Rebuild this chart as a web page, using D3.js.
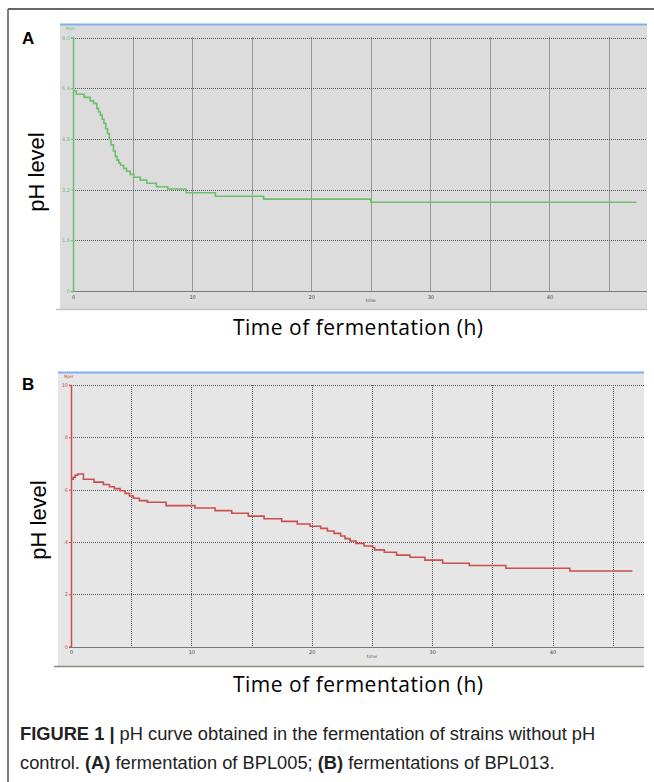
<!DOCTYPE html>
<html>
<head>
<meta charset="utf-8">
<script src="https://cdn.jsdelivr.net/npm/d3@7"></script>
<style>
  body { margin: 0; background: #fff; }
  svg { display: block; }
</style>
</head>
<body>
<svg id="fig" width="654" height="782"></svg>
<script>
// pH readings (hours, pH)
const hoursA = [0, 0.28, 0.95, 1.45, 1.73, 2.0, 2.15, 2.3, 2.45, 2.6, 2.75, 2.9, 3.05, 3.2, 3.4, 3.55,
                3.7, 3.85, 4.0, 4.25, 4.5, 4.8, 5.1, 5.65, 6.2, 7.0, 7.95, 9.5, 11.95, 16.0, 25.0, 47.3];
const phA = [6.31, 6.21, 6.11, 6.00, 5.92, 5.76, 5.65, 5.55, 5.42, 5.29, 5.12, 4.97, 4.78, 4.61, 4.42, 4.25,
             4.13, 4.04, 3.97, 3.87, 3.78, 3.68, 3.59, 3.50, 3.40, 3.29, 3.22, 3.10, 2.99, 2.90, 2.80, 2.80];

const hoursB = [0, 0.19, 0.35, 0.55, 1.03, 1.91, 2.69, 3.19, 3.60, 4.07, 4.49, 4.85, 5.18, 5.68, 6.35, 7.9,
                10.3, 11.97, 13.35, 14.73, 16.04, 17.5, 18.8, 19.86, 20.74, 21.3, 21.85, 22.4, 22.76, 23.18,
                23.68, 24.34, 25.06, 25.23, 26.03, 27.05, 28.16, 29.4, 30.87, 33.08, 36.13, 41.44, 46.64];
const phB = [6.40, 6.47, 6.55, 6.60, 6.40, 6.29, 6.20, 6.11, 6.04, 5.96, 5.86, 5.76, 5.67, 5.58, 5.52, 5.39,
             5.30, 5.20, 5.10, 4.99, 4.89, 4.79, 4.69, 4.60, 4.52, 4.42, 4.33, 4.23, 4.13, 4.04,
             3.95, 3.85, 3.78, 3.70, 3.61, 3.50, 3.42, 3.31, 3.19, 3.10, 3.00, 2.89, 2.89];

const yTicksA = [0, 1.6, 3.2, 4.8, 6.4, 8.0];
const yTicksB = [0, 2, 4, 6, 8, 10];
const xTickLabels = [0, 10, 20, 30, 40];
const gridHours = [5, 10, 15, 20, 25, 30, 35, 40, 45];

const svg = d3.select("#fig");
const snap = v => Math.round(v) + 0.5; // keep the dotted grid crisp

function drawPanel(p) {
    const g = svg.append("g");
    const x = d3.scaleLinear().domain([0, 45]).range([p.x0, p.x45]);
    const y = d3.scaleLinear().domain([0, p.yMax]).range([p.yBase, p.yTop]);

    // logger window background
    g.append("rect")
        .attr("x", p.left).attr("y", p.top)
        .attr("width", p.right - p.left).attr("height", p.bottom - p.top)
        .attr("fill", p.bg);
    g.append("line")
        .attr("x1", p.left).attr("x2", p.right)
        .attr("y1", p.top + 0.5).attr("y2", p.top + 0.5)
        .attr("stroke", "#7fb0ee").attr("stroke-width", 2);
    g.append("line")
        .attr("x1", p.left - 4).attr("x2", p.right)
        .attr("y1", p.bottom + 0.5).attr("y2", p.bottom + 0.5)
        .attr("stroke", p.bottomColor).attr("stroke-width", 1.5);

    // horizontal dotted grid
    g.selectAll(".hgrid").data(p.yTicks.slice(1)).join("line")
        .attr("class", "hgrid")
        .attr("x1", p.x0).attr("x2", p.right)
        .attr("y1", d => snap(y(d))).attr("y2", d => snap(y(d)))
        .attr("stroke", "#555").attr("stroke-dasharray", "1,1");

    // vertical dotted grid
    g.selectAll(".vgrid").data(gridHours).join("line")
        .attr("class", "vgrid")
        .attr("x1", d => snap(x(d))).attr("x2", d => snap(x(d)))
        .attr("y1", y(p.yMax)).attr("y2", y(0))
        .attr("stroke", "#555").attr("stroke-dasharray", "1,1");

    // x axis
    const xa = g.append("g")
        .attr("transform", `translate(0,${y(0)})`)
        .call(d3.axisBottom(x).tickValues(xTickLabels).tickSize(0).tickPadding(4));
    xa.select(".domain").remove();
    xa.selectAll("text").attr("font-size", 5).attr("font-family", "DejaVu Sans").attr("fill", "#444");
    g.append("line")
        .attr("x1", p.x0).attr("x2", p.right)
        .attr("y1", snap(y(0))).attr("y2", snap(y(0)))
        .attr("stroke", "#7a7a7a").attr("stroke-width", 1);
    g.append("text")
        .attr("x", x(25)).attr("y", y(0) + 11)
        .attr("text-anchor", "middle")
        .attr("font-size", 4.5).attr("font-family", "DejaVu Sans").attr("fill", "#555")
        .text("time");

    // y axis in the series colour
    const ya = g.append("g")
        .attr("transform", `translate(${p.x0},0)`)
        .call(d3.axisLeft(y).tickValues(p.yTicks).tickFormat(p.yFmt).tickSize(2).tickPadding(1));
    ya.select(".domain").attr("stroke", p.color).attr("stroke-width", 1.5);
    ya.selectAll("line").attr("stroke", p.color);
    ya.selectAll("text").attr("font-size", 5).attr("font-family", "DejaVu Sans").attr("fill", p.color);
    g.append("text")
        .attr("x", p.left + 6).attr("y", p.top + 6)
        .attr("font-size", 4).attr("font-family", "DejaVu Sans").attr("fill", p.color)
        .text("MpH");

    // pH trace
    const pts = p.hours.map((h, i) => [h, p.ph[i]]);
    const line = d3.line()
        .x(d => x(d[0]))
        .y(d => y(d[1]))
        .curve(d3.curveStepAfter);
    g.append("path")
        .datum(pts)
        .attr("d", line)
        .attr("fill", "none")
        .attr("stroke", p.color)
        .attr("stroke-width", 1.6);

    // panel letter and axis titles
    svg.append("text")
        .attr("x", 22).attr("y", p.letterY)
        .attr("font-family", "Liberation Sans, Arial, sans-serif")
        .attr("font-weight", "bold").attr("font-size", 17)
        .text(p.letter);
    svg.append("text")
        .attr("transform", `translate(${p.yLabelX},${p.yLabelY}) rotate(-90)`)
        .attr("text-anchor", "middle")
        .attr("font-family", "Liberation Sans, Arial, sans-serif")
        .attr("font-size", 22)
        .text("pH level");
    svg.append("text")
        .attr("x", 358).attr("y", p.xLabelY)
        .attr("text-anchor", "middle")
        .attr("font-family", "Open Sans, sans-serif")
        .attr("font-size", 21)
        .attr("textLength", 250)
        .text("Time of fermentation (h)");
}

// figure frame
svg.append("line").attr("x1", 8).attr("x2", 654).attr("y1", 9).attr("y2", 9)
    .attr("stroke", "#333").attr("stroke-width", 1.5);
svg.append("line").attr("x1", 8).attr("x2", 8).attr("y1", 9).attr("y2", 782)
    .attr("stroke", "#555").attr("stroke-width", 1.5);

drawPanel({
    letter: "A", letterY: 44,
    left: 60, right: 647, top: 24, bottom: 309,
    x0: 73, x45: 609, yBase: 291, yTop: 37.5, yMax: 8,
    yTicks: yTicksA, yFmt: d => d === 0 ? "0" : d.toFixed(1),
    bg: "#dcdcdc", bottomColor: "#c4c4c4", color: "#6cbf6c",
    hours: hoursA, ph: phA,
    yLabelX: 44, yLabelY: 172, xLabelY: 335
});

drawPanel({
    letter: "B", letterY: 390,
    left: 58, right: 644, top: 372, bottom: 666,
    x0: 71, x45: 612.7, yBase: 646.7, yTop: 385, yMax: 10,
    yTicks: yTicksB, yFmt: d => String(d),
    bg: "#e6e6e6", bottomColor: "#8b8878", color: "#c9504e",
    hours: hoursB, ph: phB,
    yLabelX: 46, yLabelY: 520, xLabelY: 692
});

// caption
const cap = svg.append("text")
    .attr("font-family", "Liberation Sans, Arial, sans-serif")
    .attr("font-size", 18.3).attr("fill", "#222");
const l1 = cap.append("tspan").attr("x", 20).attr("y", 740);
l1.append("tspan").attr("font-weight", "bold").text("FIGURE 1 |");
l1.append("tspan").text(" pH curve obtained in the fermentation of strains without pH");
const l2 = cap.append("tspan").attr("x", 20).attr("y", 769);
l2.append("tspan").text("control. ");
l2.append("tspan").attr("font-weight", "bold").text("(A)");
l2.append("tspan").text(" fermentation of BPL005; ");
l2.append("tspan").attr("font-weight", "bold").text("(B)");
l2.append("tspan").text(" fermentations of BPL013.");
</script>
</body>
</html>
